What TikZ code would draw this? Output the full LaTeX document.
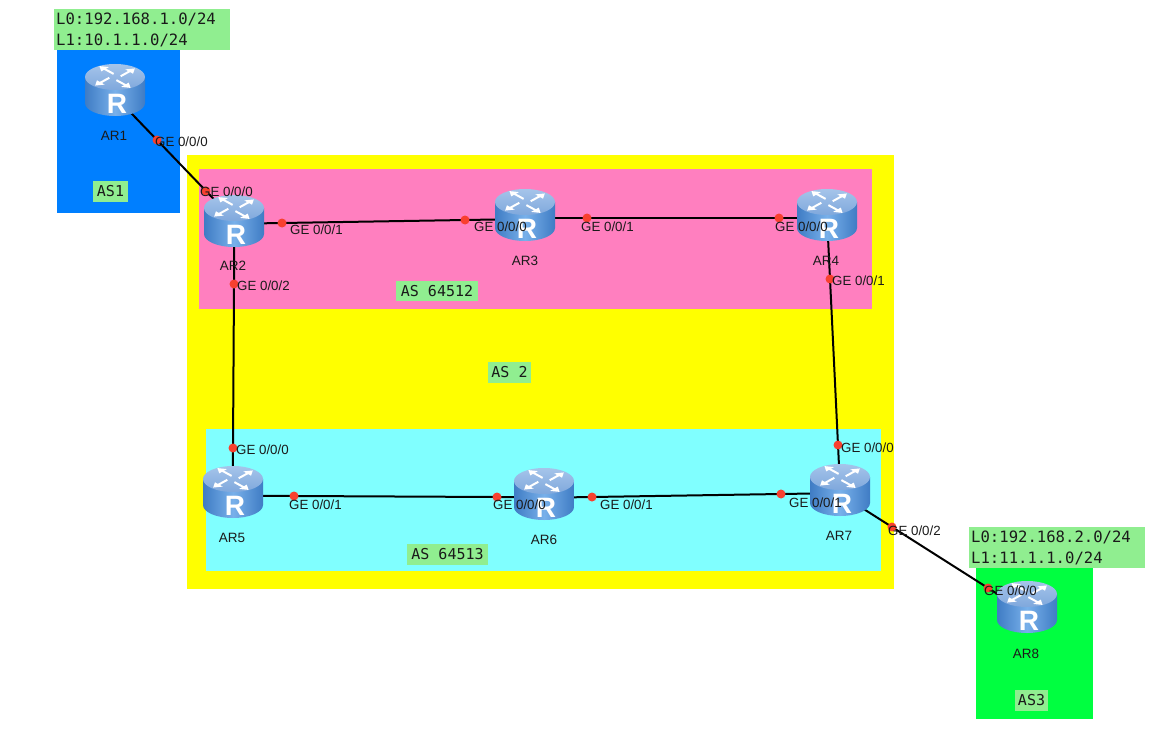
\documentclass[tikz,border=0pt]{standalone}
\usepackage{fontspec}
\setmainfont{Liberation Sans}
\newfontfamily\monofnt{DejaVu Sans Mono}
\definecolor{asblue}{HTML}{007FFF}
\definecolor{asyellow}{HTML}{FFFF00}
\definecolor{aspink}{HTML}{FF7FBF}
\definecolor{ascyan}{HTML}{80FFFF}
\definecolor{asgreen}{HTML}{00FF40}
\definecolor{lblgreen}{HTML}{90EE90}
\definecolor{dotred}{HTML}{F8402F}
\definecolor{txtdark}{HTML}{1A1A1A}
\definecolor{rside}{HTML}{3F7CC4}
\definecolor{rmid}{HTML}{78B0EA}
\definecolor{rtopa}{HTML}{A5C4EA}
\definecolor{rtopb}{HTML}{7FA8DC}
\tikzset{
  x=1pt,y=-1pt,
  area/.style={draw=none},
  link/.style={line width=2pt,black},
  rpt/.style={inner sep=0pt,minimum size=1pt},
  portdot/.style={circle,fill=dotred,draw=none,inner sep=0pt,minimum size=9pt},
  port/.style={anchor=west,inner sep=0pt,font=\fontsize{13.3}{15}\selectfont,text=txtdark},
  rname/.style={inner sep=0pt,font=\fontsize{13.5}{15}\selectfont,text=txtdark},
  aslabel/.style={fill=lblgreen,inner sep=0pt,font=\monofnt\fontsize{15}{16}\selectfont,text=txtdark},
  netlabel/.style={fill=lblgreen,inner sep=0pt,anchor=north west,font=\monofnt\fontsize{15.6}{20.5}\selectfont,text=txtdark,align=left,minimum width=176pt,minimum height=41pt,text width=172pt},
  routerarrow/.style={white,line width=2pt},
}
\newcommand{\routerdraw}[1]{%
  \begin{scope}[shift={(#1)}]
    \path[left color=rside,right color=rside,middle color=rmid,draw=none]
      (-30,-13) -- (-30,13) arc[start angle=180,end angle=360,x radius=30pt,y radius=13pt] -- (30,-13) -- cycle;
    \path[top color=rtopa,bottom color=rtopb]
      (0,-13) ellipse[x radius=30pt,y radius=13pt];
    \begin{scope}[shift={(0,-13)},yscale=0.55]
      \foreach \a in {45,135,225,315}{
        \begin{scope}[rotate=\a]
          \draw[routerarrow] (5,3) -- (19,3);
          \fill[white] (25,3) -- (17,-2.5) -- (17,8.5) -- cycle;
        \end{scope}
      }
    \end{scope}
    \node[inner sep=0pt,text=white,font=\bfseries\fontsize{28}{30}\selectfont] at (2,14) {R};
  \end{scope}%
}
\begin{document}
\begin{tikzpicture}
\useasboundingbox (0,0) rectangle (1150,754);
% areas
\fill[asblue,area] (57,50) rectangle (180,213);
\fill[asyellow,area] (187,155) rectangle (894,589);
\fill[aspink,area] (199,169) rectangle (872,309);
\fill[ascyan,area] (206,429) rectangle (881,571);
\fill[asgreen,area] (976,568) rectangle (1093,719);
% router anchors
\node[rpt] (ar1) at (115,90) {};
\node[rpt] (ar2) at (234,221) {};
\node[rpt] (ar3) at (525,215) {};
\node[rpt] (ar4) at (827,215) {};
\node[rpt] (ar5) at (233,492) {};
\node[rpt] (ar6) at (544,494) {};
\node[rpt] (ar7) at (840,490) {};
\node[rpt] (ar8) at (1027,607) {};
% link anchor points at the port positions
\foreach \nm/\x/\y in {d1/157/140,d2/206/191,d3/282/223,d4/465/220,d5/587/218,d6/779/218,d7/234/284,d8/233/448,d9/830/279,d10/838/445,d11/294/496,d12/497/497,d13/592/497,d14/781/494,d15/892/527,d16/988/588}{
  \coordinate (\nm) at (\x,\y);
}
% links: each runs through its two ports and ends under the routers
\draw[link,shorten <=-45pt,shorten >=-15pt] (d1) -- (d2);
\draw[link,shorten <=-25pt,shorten >=-45pt] (d3) -- (d4);
\draw[link,shorten <=-45pt,shorten >=-30pt] (d5) -- (d6);
\draw[link,shorten <=-45pt,shorten >=-25pt] (d7) -- (d8);
\draw[link,shorten <=-45pt,shorten >=-25pt] (d9) -- (d10);
\draw[link,shorten <=-45pt,shorten >=-25pt] (d11) -- (d12);
\draw[link,shorten <=-30pt,shorten >=-40pt] (d13) -- (d14);
\draw[link,shorten <=-45pt,shorten >=-15pt] (d15) -- (d16);
% routers
\routerdraw{ar1}
\routerdraw{ar2}
\routerdraw{ar3}
\routerdraw{ar4}
\routerdraw{ar5}
\routerdraw{ar6}
\routerdraw{ar7}
\routerdraw{ar8}
% router names
\node[rname] (n1) at (114,136) {AR1};
\node[rname] (n2) at (233,266) {AR2};
\node[rname] (n3) at (525,261) {AR3};
\node[rname] (n4) at (826,261) {AR4};
\node[rname] (n5) at (232,538) {AR5};
\node[rname] (n6) at (544,540) {AR6};
\node[rname] (n7) at (839,536) {AR7};
\node[rname] (n8) at (1026,654) {AR8};
% port dots on top of the links
\foreach \nm in {1,...,16}{
  \node[portdot] (e\nm) at (d\nm) {};
}
% port labels
\node[port] (p1) at (155,141.5) {GE 0/0/0};
\node[port] (p2) at (200,191.5) {GE 0/0/0};
\node[port] (p3) at (290,229.5) {GE 0/0/1};
\node[port] (p4) at (474,226.5) {GE 0/0/0};
\node[port] (p5) at (581,226.5) {GE 0/0/1};
\node[port] (p6) at (775,226.5) {GE 0/0/0};
\node[port] (p7) at (237,285.5) {GE 0/0/2};
\node[port] (p8) at (236,449.5) {GE 0/0/0};
\node[port] (p9) at (832,280.5) {GE 0/0/1};
\node[port] (p10) at (841,447.5) {GE 0/0/0};
\node[port] (p11) at (289,504.5) {GE 0/0/1};
\node[port] (p12) at (493,504.5) {GE 0/0/0};
\node[port] (p13) at (600,504.5) {GE 0/0/1};
\node[port] (p14) at (789,502.5) {GE 0/0/1};
\node[port] (p15) at (888,530.5) {GE 0/0/2};
\node[port] (p16) at (984,590.5) {GE 0/0/0};
% AS labels
\node[aslabel,minimum width=35pt,minimum height=21pt] (as1) at (110.5,191.5) {AS1};
\node[aslabel,minimum width=33pt,minimum height=21pt] (as3) at (1031.5,700.5) {AS3};
\node[aslabel,minimum width=82pt,minimum height=20pt] (as64512) at (437,291) {AS 64512};
\node[aslabel,minimum width=43pt,minimum height=21pt] (as2) at (509.5,372.5) {AS 2};
\node[aslabel,minimum width=81pt,minimum height=21pt] (as64513) at (447.5,554.5) {AS 64513};
\node[netlabel] (net1) at (54,9) {L0:192.168.1.0/24\\L1:10.1.1.0/24};
\node[netlabel] (net2) at (969,527) {L0:192.168.2.0/24\\L1:11.1.1.0/24};
\end{tikzpicture}
\end{document}
